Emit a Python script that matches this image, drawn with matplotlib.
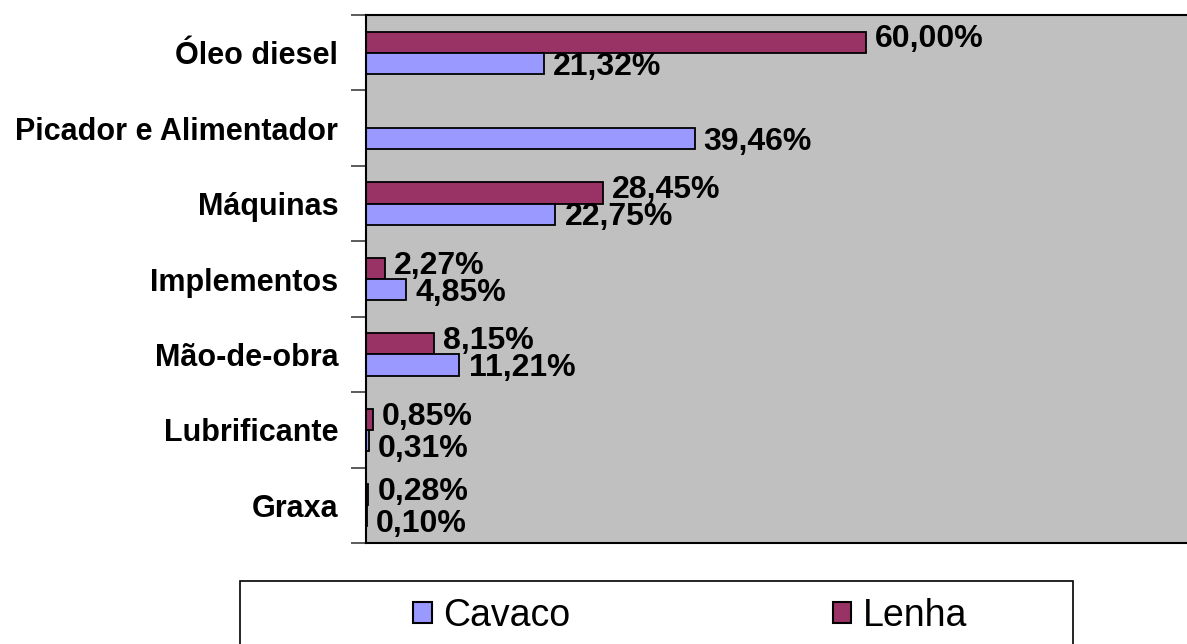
import numpy as np
import matplotlib
matplotlib.use("Agg")
import matplotlib.pyplot as plt
from matplotlib.patches import Rectangle, Patch

categorias = ['Óleo diesel', 'Picador e Alimentador', 'Máquinas', 'Implementos',
              'Mão-de-obra', 'Lubrificante', 'Graxa']
cavaco = [21.32, 39.46, 22.75, 4.85, 11.21, 0.31, 0.10]
lenha = [60.00, np.nan, 28.45, 2.27, 8.15, 0.85, 0.28]

cor_cavaco = '#9999FF'
cor_lenha = '#993366'

plt.rcParams['font.family'] = ['Liberation Sans', 'DejaVu Sans']

fig = plt.figure(figsize=(11.87, 6.44), dpi=100)
ax = fig.add_axes([366 / 1187, 1 - 543 / 644, 1 - 366 / 1187, (543 - 15) / 644])
ax.set_facecolor('#C0C0C0')

y = np.arange(len(categorias))
h = 0.28
ax.barh(y - h / 2, lenha, height=h, color=cor_lenha, edgecolor='black', linewidth=1.3)
ax.barh(y + h / 2, cavaco, height=h, color=cor_cavaco, edgecolor='black', linewidth=1.3)

def fmt(v):
    return ('%.2f%%' % v).replace('.', ',')

for i in range(len(categorias)):
    if not np.isnan(lenha[i]):
        ax.text(lenha[i] + 1.1, y[i] - 0.07, fmt(lenha[i]), va='baseline', ha='left',
                fontsize=23, fontweight='bold')
    # rotulos de valores muito pequenos ficam um pouco mais abaixo
    dy = 0.36 if cavaco[i] < 1 else 0.29
    ax.text(cavaco[i] + 1.1, y[i] + dy, fmt(cavaco[i]), va='baseline', ha='left',
            fontsize=23, fontweight='bold')

ax.set_xlim(0, 98.6)
ax.set_ylim(len(categorias) - 0.5, -0.5)
ax.set_xticks([])
ax.set_yticks(y)
ax.set_yticklabels(categorias, fontsize=22, fontweight='bold')
ax.tick_params(axis='y', which='major', length=0, pad=20)
ax.set_yticks(np.arange(-0.5, len(categorias)), minor=True)
ax.tick_params(axis='y', which='minor', length=11, width=1.2, color='#404040')
for s in ['left', 'bottom', 'top']:
    ax.spines[s].set_color('black')
    ax.spines[s].set_linewidth(1.5)
ax.spines['right'].set_visible(False)

# caixa da legenda
fig.patches.append(Rectangle((240 / 1187, -0.05), (1073 - 240) / 1187, 1 - 581 / 644 + 0.05,
                             transform=fig.transFigure, facecolor='white', edgecolor='black',
                             linewidth=1.2))
handles = [Patch(facecolor=cor_cavaco, edgecolor='black', linewidth=1.5, label='Cavaco'),
           Patch(facecolor=cor_lenha, edgecolor='black', linewidth=1.5, label='Lenha')]
fig.legend(handles=handles, loc='center left', bbox_to_anchor=(413 / 1187, 1 - 616 / 644),
           ncol=2, frameon=False, fontsize=27, handlelength=0.5, handleheight=0.5,
           handletextpad=0.3, columnspacing=7.0, borderpad=0, borderaxespad=0)

fig.savefig('out.png', dpi=100)
